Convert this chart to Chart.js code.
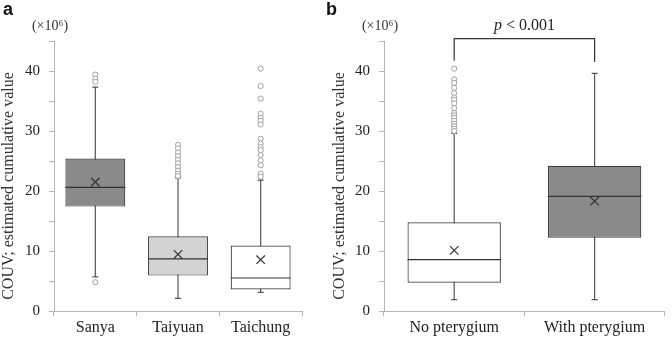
<!DOCTYPE html>
<html>
<head>
<meta charset="utf-8">
<script src="https://cdn.jsdelivr.net/npm/chart.js@4"></script>
<style>
  body { margin: 0; background: #fff; }
  .panel { position: absolute; top: 0; }
</style>
</head>
<body>
<div class="panel" style="left:0"><canvas id="chartA" width="320" height="340"></canvas></div>
<div class="panel" style="left:320px"><canvas id="chartB" width="352" height="340"></canvas></div>
<script>
// panel a - by city
const citiesA = ['Sanya', 'Taiyuan', 'Taichung'];
const boxA = [[17.4, 25.4], [5.9, 12.45], [3.6, 10.9]];
const medianA = [20.6, 8.7, 5.5];
const meanA = [21.5, 9.45, 8.55];
const whiskerA = [[5.7, 37.3], [2.1, 22.2], [3.1, 21.8]];
const outSanya = [39.4, 38.7, 38.2, 4.8];
const outTaiyuan = [27.7, 27.1, 26.4, 25.8, 25.2, 24.6, 24.0, 23.4, 22.9, 22.5];
const outTaichung = [40.4, 37.5, 35.4, 32.9, 32.2, 31.7, 31.1, 28.7, 27.9, 27.3, 26.8, 26.0, 25.1, 24.3, 22.9, 22.4];
const fillA = ['#8a8a8a', '#d3d3d3', '#ffffff'];

// panel b - by pterygium
const groupsB = ['No pterygium', 'With pterygium'];
const boxB = [[4.7, 14.8], [12.2, 24.2]];
const medianB = [8.55, 19.1];
const meanB = [10.1, 18.3];
const whiskerB = [[1.9, 29.6], [1.9, 39.6]];
const outNoPter = [40.4, 38.6, 38.0, 37.2, 36.3, 35.6, 35.2, 34.6, 33.8, 33.0, 32.6, 32.2, 31.7, 31.2, 30.8, 30.4, 30.0];
const fillB = ['#ffffff', '#8a8a8a'];

const yTickLabels = [0, 10, 20, 30, 40];
const yTitle = 'COUV; estimated cumulative value';
const unitLabel = '(\u00d710\u2076)';

const serif = "'Liberation Serif', 'DejaVu Serif', serif";

const boxExtras = {
  id: 'boxExtras',
  beforeDatasetsDraw(chart, args, opts) {
    const ctx = chart.ctx, y = chart.scales.y;
    const bars = chart.getDatasetMeta(0).data;
    ctx.save();
    ctx.strokeStyle = '#555';
    ctx.lineWidth = 1.2;
    opts.whiskers.forEach((w, i) => {
      const x = bars[i].x;
      const lo = y.getPixelForValue(w[0]), hi = y.getPixelForValue(w[1]);
      ctx.beginPath();
      ctx.moveTo(x, lo); ctx.lineTo(x, hi);
      ctx.moveTo(x - 3, lo); ctx.lineTo(x + 3, lo);
      ctx.moveTo(x - 3, hi); ctx.lineTo(x + 3, hi);
      ctx.stroke();
    });
    ctx.restore();
  },
  afterDatasetsDraw(chart, args, opts) {
    const ctx = chart.ctx, y = chart.scales.y;
    const bars = chart.getDatasetMeta(0).data;
    ctx.save();
    ctx.strokeStyle = '#333';
    ctx.lineWidth = 1.2;
    opts.medians.forEach((m, i) => {
      const b = bars[i], py = y.getPixelForValue(m);
      ctx.beginPath();
      ctx.moveTo(b.x - b.width / 2, py);
      ctx.lineTo(b.x + b.width / 2, py);
      ctx.stroke();
    });
    ctx.restore();
  },
  afterDraw(chart, args, opts) {
    const ctx = chart.ctx, area = chart.chartArea, y = chart.scales.y, x = chart.scales.x;
    ctx.save();
    ctx.fillStyle = '#111';
    ctx.font = "bold 18px 'Liberation Sans', Arial, sans-serif";
    ctx.textAlign = 'left';
    ctx.textBaseline = 'alphabetic';
    ctx.fillText(opts.letter, opts.letterX, 15);

    ctx.fillStyle = '#333';
    ctx.font = '14px ' + serif;
    ctx.textAlign = 'center';
    ctx.fillText(unitLabel, area.left - 4, 30);

    ctx.translate(opts.titleX, (area.top + area.bottom) / 2 + 10);
    ctx.rotate(-Math.PI / 2);
    ctx.font = '16px ' + serif;
    ctx.textBaseline = 'middle';
    ctx.fillText(yTitle, 0, 0);
    ctx.setTransform(1, 0, 0, 1, 0, 0);

    if (opts.bracket) {
      const x0 = x.getPixelForValue(0), x1 = x.getPixelForValue(1);
      const top = y.getPixelForValue(45.4);
      ctx.strokeStyle = '#333';
      ctx.lineWidth = 1.2;
      ctx.beginPath();
      ctx.moveTo(x0, y.getPixelForValue(41.7));
      ctx.lineTo(x0, top);
      ctx.lineTo(x1, top);
      ctx.lineTo(x1, y.getPixelForValue(41.5));
      ctx.stroke();
      ctx.fillStyle = '#222';
      ctx.textBaseline = 'alphabetic';
      ctx.textAlign = 'left';
      const rest = ' < 0.001';
      ctx.font = 'italic 16px ' + serif;
      const wp = ctx.measureText('p').width;
      ctx.font = '16px ' + serif;
      const wr = ctx.measureText(rest).width;
      const sx = (x0 + x1) / 2 - (wp + wr) / 2;
      const by = y.getPixelForValue(46.9);
      ctx.font = 'italic 16px ' + serif;
      ctx.fillText('p', sx, by);
      ctx.font = '16px ' + serif;
      ctx.fillText(rest, sx + wp, by);
    }
    ctx.restore();
  }
};

function makeChart(id, labels, boxes, fills, means, outliers, barPct, extras, padding) {
  return new Chart(document.getElementById(id), {
    type: 'bar',
    data: {
      labels: labels,
      datasets: [
        {
          data: boxes,
          backgroundColor: fills,
          borderColor: '#404040',
          borderWidth: 1.2,
          borderSkipped: false,
          barPercentage: barPct,
          categoryPercentage: 1,
          order: 2
        },
        {
          type: 'line',
          data: means,
          showLine: false,
          pointStyle: 'crossRot',
          pointRadius: 6,
          borderColor: '#333',
          borderWidth: 1.2,
          order: 0
        },
        {
          type: 'line',
          data: outliers,
          showLine: false,
          pointStyle: 'circle',
          pointRadius: 2.6,
          borderColor: '#a0a0a0',
          backgroundColor: '#ffffff',
          borderWidth: 1,
          order: 1
        }
      ]
    },
    options: {
      responsive: false,
      animation: false,
      layout: { padding: padding },
      plugins: {
        legend: { display: false },
        tooltip: { enabled: false },
        boxExtras: extras
      },
      scales: {
        x: {
          grid: { display: true, drawOnChartArea: false, offset: true, tickLength: 5, color: '#b5b5b5' },
          border: { color: '#b5b5b5', width: 1 },
          ticks: { color: '#222', font: { family: serif, size: 16, lineHeight: 1.0 }, padding: 4, maxRotation: 0 }
        },
        y: {
          min: 0,
          max: 45,
          grid: { drawOnChartArea: false, tickLength: 5, color: '#b5b5b5' },
          border: { color: '#b5b5b5', width: 1 },
          ticks: {
            stepSize: 5,
            color: '#222',
            padding: 9,
            font: { family: serif, size: 15 },
            callback: (v) => yTickLabels.includes(v) ? String(v) : ''
          }
        }
      }
    },
    plugins: [boxExtras]
  });
}

const outA = [
  ...outSanya.map(v => ({ x: citiesA[0], y: v })),
  ...outTaiyuan.map(v => ({ x: citiesA[1], y: v })),
  ...outTaichung.map(v => ({ x: citiesA[2], y: v }))
];
const outB = outNoPter.map(v => ({ x: groupsB[0], y: v }));

makeChart('chartA', citiesA, boxA, fillA, meanA, outA, 0.725,
  { whiskers: whiskerA, medians: medianA, letter: 'a', letterX: 3, titleX: 9, bracket: false },
  { left: 16, right: 18, top: 41, bottom: 0 });

makeChart('chartB', groupsB, boxB, fillB, meanB, outB, 0.665,
  { whiskers: whiskerB, medians: medianB, letter: 'b', letterX: 6, titleX: 20, bracket: true },
  { left: 26, right: 2, top: 41, bottom: 0 });
</script>
</body>
</html>
